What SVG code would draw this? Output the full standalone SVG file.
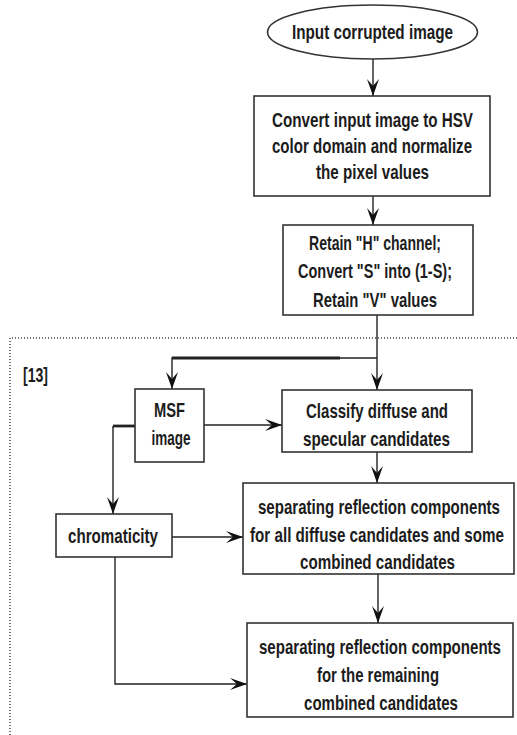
<svg xmlns="http://www.w3.org/2000/svg" width="517" height="735" viewBox="0 0 517 735">
  <defs>
    <marker id="arrow" viewBox="0 0 17 12" markerWidth="17" markerHeight="12" refX="17" refY="6" orient="auto" markerUnits="userSpaceOnUse">
      <path d="M0,0 L17,6 L0,12 L7,6 Z" fill="#111"/>
    </marker>
    <style>
      .box { fill: #fff; stroke: #333; stroke-width: 1.6; }
      .lbl { font-family: "Liberation Sans", Arial, sans-serif; font-size: 20px; font-weight: bold; fill: #1c1c1c; text-anchor: middle; }
      .wire { fill: none; stroke: #222; stroke-width: 1.4; }
      .thick { fill: none; stroke: #222; stroke-width: 2.8; }
      .frame { fill: none; stroke: #444; stroke-width: 1.5; stroke-dasharray: 1 2; }
    </style>
  </defs>
  <rect width="517" height="735" fill="#fff"/>

  <!-- dotted frame around the reference method block -->
  <path class="frame" d="M10,735 L10,338 L517,338"/>

  <g id="connectors">
    <path class="wire" d="M373,59 L373,96" marker-end="url(#arrow)"/>
    <path class="wire" d="M373,196 L373,225" marker-end="url(#arrow)"/>
    <path class="wire" d="M377,315 L377,390" marker-end="url(#arrow)"/>
    <path class="wire" d="M377,358 L172,358 L172,389" marker-end="url(#arrow)"/>
    <path class="thick" d="M172,358 L340,358"/>
    <path class="wire" d="M204,425 L282,425" marker-end="url(#arrow)"/>
    <path class="thick" d="M135,426 L113,426"/>
    <path class="wire" d="M113,426 L113,514" marker-end="url(#arrow)"/>
    <path class="wire" d="M172,537 L243,537" marker-end="url(#arrow)"/>
    <path class="wire" d="M377,452 L377,483" marker-end="url(#arrow)"/>
    <path class="wire" d="M378,574 L378,623" marker-end="url(#arrow)"/>
    <path class="wire" d="M115,557 L115,684 L247,684" marker-end="url(#arrow)"/>
  </g>

  <!-- labels use a horizontally condensed sans: scale(.75,1) plus a fitted textLength -->
  <g id="input">
    <ellipse class="box" cx="372.5" cy="32" rx="105" ry="27"/>
    <text class="lbl" transform="translate(372.5,39) scale(.75,1)" textLength="214.7" lengthAdjust="spacingAndGlyphs">Input corrupted image</text>
  </g>

  <g id="convert-hsv">
    <rect class="box" x="254" y="96" width="236" height="100"/>
    <text class="lbl" transform="translate(372.5,127) scale(.75,1)" textLength="268" lengthAdjust="spacingAndGlyphs">Convert input image to HSV</text>
    <text class="lbl" transform="translate(372,153) scale(.75,1)" textLength="266.7" lengthAdjust="spacingAndGlyphs">color domain and normalize</text>
    <text class="lbl" transform="translate(372.5,179) scale(.75,1)" textLength="150.7" lengthAdjust="spacingAndGlyphs">the pixel values</text>
  </g>

  <g id="channels">
    <rect class="box" x="283" y="225" width="190" height="90"/>
    <text class="lbl" transform="translate(375,250) scale(.75,1)" textLength="176" lengthAdjust="spacingAndGlyphs">Retain "H" channel;</text>
    <text class="lbl" transform="translate(375,278) scale(.75,1)" textLength="205.3" lengthAdjust="spacingAndGlyphs">Convert "S" into (1-S);</text>
    <text class="lbl" transform="translate(375,307) scale(.75,1)" textLength="165.3" lengthAdjust="spacingAndGlyphs">Retain "V" values</text>
  </g>

  <g id="ref-label">
    <text class="lbl" transform="translate(35.5,382) scale(.75,1)" textLength="33.3" lengthAdjust="spacingAndGlyphs">[13]</text>
  </g>

  <g id="msf">
    <rect class="box" x="135" y="389" width="69" height="73"/>
    <text class="lbl" transform="translate(169.5,417) scale(.75,1)" textLength="41.3" lengthAdjust="spacingAndGlyphs">MSF</text>
    <text class="lbl" transform="translate(171,445) scale(.75,1)" textLength="52" lengthAdjust="spacingAndGlyphs">image</text>
  </g>

  <g id="classify">
    <rect class="box" x="282" y="390" width="190" height="62"/>
    <text class="lbl" transform="translate(377,418) scale(.75,1)" textLength="189.3" lengthAdjust="spacingAndGlyphs">Classify diffuse and</text>
    <text class="lbl" transform="translate(376.5,446) scale(.75,1)" textLength="196" lengthAdjust="spacingAndGlyphs">specular candidates</text>
  </g>

  <g id="chromaticity">
    <rect class="box" x="56" y="514" width="116" height="43"/>
    <text class="lbl" transform="translate(113,543) scale(.75,1)" textLength="120" lengthAdjust="spacingAndGlyphs">chromaticity</text>
  </g>

  <g id="separate-diffuse">
    <rect class="box" x="243" y="483" width="271" height="91"/>
    <text class="lbl" transform="translate(379,514) scale(.75,1)" textLength="322.7" lengthAdjust="spacingAndGlyphs">separating reflection components</text>
    <text class="lbl" transform="translate(377,542) scale(.75,1)" textLength="338.7" lengthAdjust="spacingAndGlyphs">for all diffuse candidates and some</text>
    <text class="lbl" transform="translate(377.5,569) scale(.75,1)" textLength="206.7" lengthAdjust="spacingAndGlyphs">combined candidates</text>
  </g>

  <g id="separate-remaining">
    <rect class="box" x="247" y="623" width="266" height="94"/>
    <text class="lbl" transform="translate(380,654) scale(.75,1)" textLength="322.7" lengthAdjust="spacingAndGlyphs">separating reflection components</text>
    <text class="lbl" transform="translate(378,682) scale(.75,1)" textLength="162.7" lengthAdjust="spacingAndGlyphs">for the remaining</text>
    <text class="lbl" transform="translate(381,710) scale(.75,1)" textLength="205.3" lengthAdjust="spacingAndGlyphs">combined candidates</text>
  </g>
</svg>
